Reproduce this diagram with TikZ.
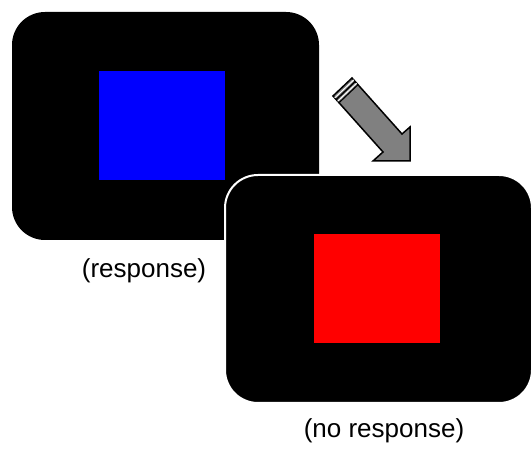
\documentclass[tikz,border=0pt]{standalone}
\usepackage{fontspec}
\setmainfont{Liberation Sans}
\usetikzlibrary{calc}
\tikzset{
  screen/.style={fill=black, rounded corners=33pt},
  caption/.style={font=\fontsize{26}{30}\selectfont, anchor=base, inner sep=0pt},
  bigarrow/.style={draw=black, line width=1.5pt, fill={rgb,255:red,128;green,128;blue,128}, line join=miter},
}
\begin{document}
\begin{tikzpicture}[x=1pt,y=-1pt]
\useasboundingbox (0,0) rectangle (531,449);
% first screen
\path[screen] (12,12) rectangle (319,240);
\fill[blue] (99,71) rectangle (225,180);
\node[caption] (resp) at (144,278) {(response)};
% second screen
\path[screen, draw=white, line width=2pt] (225,175) rectangle (532,403);
\fill[red] (314,234) rectangle (440,343);
\node[caption] (noresp) at (384,438) {(no response)};
% arrow
\coordinate (T1) at (333,96);
\coordinate (T2) at (352,78);
\coordinate (N1) at (383,152);
\coordinate (N2) at (402,134);
\coordinate (H1) at (373,161);
\coordinate (H2) at (410,127);
\coordinate (tip) at (410,161);
\draw[bigarrow] (T1) -- (N1) -- (H1) -- (tip) -- (H2) -- (N2) -- (T2) -- cycle;
\foreach \k/\c/\w in {2.6/white/1.0, 4.8/black/1.4, 7.0/white/1.0, 9.0/black/1.2} {
  \draw[\c, line width=\w pt] ($(T1)+\k*(0.659,0.753)$) -- ($(T2)+\k*(0.659,0.753)$);
}
\end{tikzpicture}
\end{document}
